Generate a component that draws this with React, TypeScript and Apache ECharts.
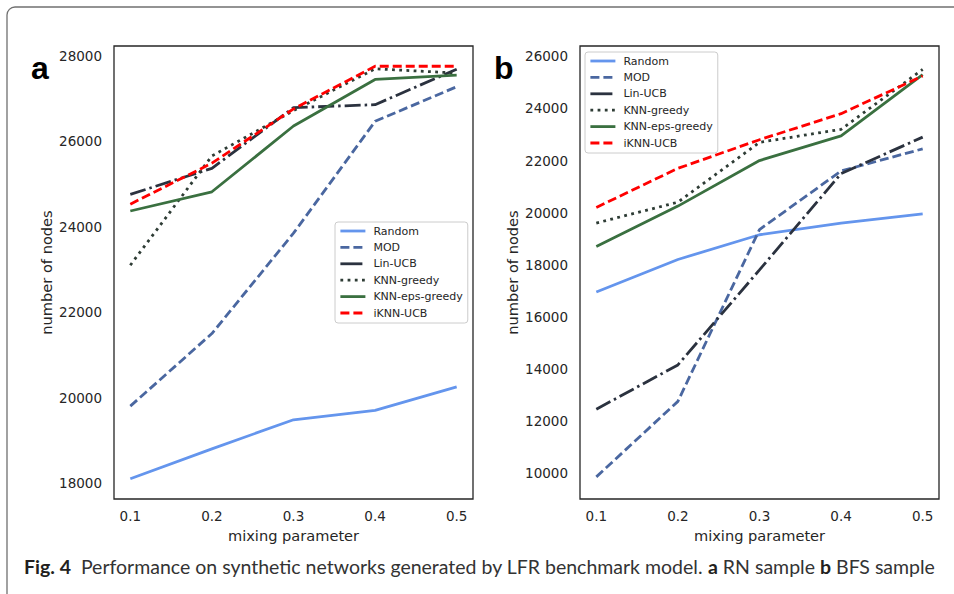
import React, { useEffect, useRef } from "react";
import * as echarts from "echarts";

const xs = [0.1, 0.2, 0.3, 0.4, 0.5];
const seriesNames = ["Random", "MOD", "Lin-UCB", "KNN-greedy", "KNN-eps-greedy", "iKNN-UCB"];
const xTicks = [0.1, 0.2, 0.3, 0.4, 0.5];
const yTicksA = [18000, 20000, 22000, 24000, 26000, 28000];
const yTicksB = [10000, 12000, 14000, 16000, 18000, 20000, 22000, 24000, 26000];

// Panel a: RN sample
const randomA = [18100, 18800, 19480, 19700, 20250];
const modA = [19800, 21500, 23850, 26470, 27280];
const linA = [24760, 25370, 26790, 26860, 27690];
const greedyA = [23100, 25660, 26720, 27700, 27600];
const epsA = [24370, 24820, 26360, 27450, 27550];
const iknnA = [24530, 25490, 26760, 27760, 27760];

// Panel b: BFS sample
const randomB = [16950, 18200, 19150, 19600, 19950];
const modB = [9850, 12750, 19350, 21600, 22450];
const linB = [12450, 14150, 17800, 21500, 22900];
const greedyB = [19600, 20400, 22700, 23200, 25500];
const epsB = [18700, 20250, 22000, 22950, 25300];
const iknnB = [20200, 21700, 22800, 23800, 25250];

const colors = ["#6495ED", "#4A67A0", "#2B323F", "#2E3C35", "#3A7040", "#FF0000"];
const dashes: any[] = ["solid", [9, 4], [16, 4, 2.5, 4], [2.8, 4.4], "solid", [9, 4]];
const legendDashes: any[] = ["solid", [9, 4], [22, 10], [2.8, 4.4], "solid", [9, 4]];

export default function App() {
  const ref = useRef<HTMLDivElement>(null);
  useEffect(() => {
    if (!ref.current) return;
    const chart = echarts.init(ref.current, null, { renderer: "svg" });
    const dataA = [randomA, modA, linA, greedyA, epsA, iknnA];
    const dataB = [randomB, modB, linB, greedyB, epsB, iknnB];
    const mk = (arr: number[][], gi: number) =>
      arr.map((vals, i) => ({
        name: seriesNames[i],
        type: "line",
        xAxisIndex: gi,
        yAxisIndex: gi,
        symbol: "none",
        showSymbol: false,
        data: xs.map((x, j) => [x, vals[j]]),
        lineStyle: { color: colors[i], width: 2.8, type: dashes[i], cap: "butt" },
        itemStyle: { color: "rgba(0,0,0,0)", borderWidth: 0 },
        z: 2 + i,
      }));
    const axisFont = { fontFamily: "DejaVu Sans", fontSize: 13.5, color: "#262626" };
    const nameFont = { fontFamily: "DejaVu Sans", fontSize: 14.6, color: "#262626" };
    const xAxisBase = (gi: number) => ({
      type: "value",
      gridIndex: gi,
      min: 0.08,
      max: 0.52,
      name: "mixing parameter",
      nameLocation: "middle",
      nameGap: 27,
      nameTextStyle: nameFont,
      axisLine: { show: false },
      axisTick: { show: false },
      splitLine: { show: false },
      axisLabel: {
        ...axisFont,
        margin: 10,
        customValues: xTicks,
        formatter: (v: number) => v.toFixed(1),
      },
    });
    const yAxisBase = (gi: number, min: number, max: number, ticks: number[]) => ({
      type: "value",
      gridIndex: gi,
      min,
      max,
      name: "number of nodes",
      nameLocation: "middle",
      nameGap: 60,
      nameRotate: 90,
      nameTextStyle: nameFont,
      axisLine: { show: false },
      axisTick: { show: false },
      splitLine: { show: false },
      axisLabel: {
        ...axisFont,
        margin: 12,
        customValues: ticks,
        formatter: (v: number) => String(v),
      },
    });
    const legendBase = (left: number, top: number) => ({
      orient: "vertical",
      left,
      top,
      data: seriesNames.map((n, i) => ({
        name: n,
        itemStyle: { color: "rgba(0,0,0,0)", borderWidth: 0, opacity: 0 },
        lineStyle: { color: colors[i], width: 2.8, type: legendDashes[i] },
      })),
      itemWidth: 25,
      itemHeight: 12,
      itemGap: 5.4,
      padding: [3.5, 5, 4.5, 4],
      backgroundColor: "#ffffff",
      borderColor: "#cccccc",
      borderWidth: 1,
      borderRadius: 3,
      selectedMode: false,
      textStyle: { fontFamily: "DejaVu Sans", fontSize: 11, color: "#262626", padding: [0, 0, 0, 3] },
    });
    chart.setOption({
      animation: false,
      backgroundColor: "#ffffff",
      grid: [
        { left: 114, top: 46, width: 359, height: 453, show: true, borderColor: "#262626", borderWidth: 1.3, backgroundColor: "#fff" },
        { left: 580, top: 46, width: 359, height: 453, show: true, borderColor: "#262626", borderWidth: 1.3, backgroundColor: "#fff" },
      ],
      xAxis: [xAxisBase(0), xAxisBase(1)],
      yAxis: [yAxisBase(0, 17625, 28234, yTicksA), yAxisBase(1, 9000, 26400, yTicksB)],
      legend: [legendBase(335, 222), legendBase(585, 52)],
      series: [...mk(dataA, 0), ...mk(dataB, 1)],
      graphic: [
        {
          type: "rect",
          shape: { x: 7, y: 7, width: 970, height: 610, r: 8 },
          style: { fill: "none", stroke: "#707070", lineWidth: 1.3 },
          silent: true,
          z: 0,
        },
        {
          type: "text",
          x: 31,
          y: 52,
          style: { text: "a", font: "bold 32px 'Liberation Sans', Arial, sans-serif", fill: "#000", verticalAlign: "alphabetic" },
        },
        {
          type: "text",
          x: 494,
          y: 52,
          style: { text: "b", font: "bold 32px 'Liberation Sans', Arial, sans-serif", fill: "#000", verticalAlign: "alphabetic" },
        },
        {
          type: "text",
          x: 24,
          y: 566,
          style: {
            text: "{b|Fig. 4}{r|  Performance on synthetic networks generated by LFR benchmark model. }{b|a}{r| RN sample }{b|b}{r| BFS sample}",
            verticalAlign: "middle",
            rich: {
              b: { fontFamily: "Lato", fontWeight: "bold", fontSize: 19.5, fill: "#231F20" },
              r: { fontFamily: "Lato", fontSize: 19.5, fill: "#333333" },
            },
          },
        },
      ],
    });
    return () => chart.dispose();
  }, []);
  return (
    <div
      ref={ref}
      style={{ position: "absolute", left: 0, top: 0, width: 954, height: 594 }}
    />
  );
}
